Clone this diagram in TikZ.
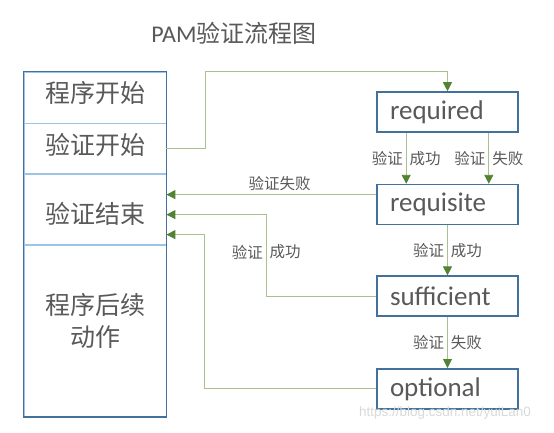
\documentclass[tikz,border=0pt]{standalone}
\usepackage{fontspec}
\setmainfont{Carlito}
\newfontfamily\cjk{Noto Sans CJK SC}
\newfontfamily\urlfont{Liberation Sans}
\usetikzlibrary{positioning, calc, arrows.meta}

\definecolor{boxblue}{HTML}{41719C}
\definecolor{sepblue}{HTML}{9DC3E6}
\definecolor{linegreen}{HTML}{A9C18F}
\definecolor{headgreen}{HTML}{548235}
\definecolor{txtgray}{HTML}{595959}

\tikzset{
  cell/.style={draw=sepblue, line width=0.8pt, minimum width=142pt, inner sep=0pt},
  celltext/.style={text=txtgray, font=\fontsize{25}{32}\selectfont\cjk, align=center, inner sep=0pt},
  ctrl/.style={draw=boxblue, line width=1.6pt, fill=white, minimum width=141pt,
    minimum height=40pt, text width=115pt, inner xsep=13pt, inner ysep=0pt,
    align=left, text=txtgray, font=\fontsize{27}{30}\selectfont},
  flow/.style={draw=linegreen, line width=0.9pt,
    -{Triangle[length=9pt,width=9pt,color=headgreen]}},
  lbl/.style={text=txtgray, font=\fontsize{15.5}{18}\selectfont\cjk, inner sep=3pt}
}

\begin{document}
\begin{tikzpicture}[x=1pt, y=-1pt]
  \useasboundingbox[fill=white] (0,0) rectangle (554,432);

  \node[text=txtgray, font=\fontsize{24}{28}\selectfont] (title) at (234,33) {PAM{\cjk 验证流程图}};

  % program column
  \node[cell, minimum height=51pt] (start) at (95,97.5) {};
  \node[cell, minimum height=50pt, below=0pt of start] (vstart) {};
  \node[cell, minimum height=70pt, below=0pt of vstart] (vend) {};
  \node[cell, minimum height=171pt, below=0pt of vend] (after) {};
  \draw[boxblue, line width=1.6pt] (start.north west) rectangle (after.south east);
  \node[celltext] (tstart) at (95,93) {程序开始};
  \node[celltext] (tvstart) at (95,145) {验证开始};
  \node[celltext] (tvend) at (95,214) {验证结束};
  \node[celltext] (tafter) at (95,321) {程序后续\\动作};

  % control flags
  \node[ctrl] (required) at (447.5,112) {required};
  \node[ctrl, below=51pt of required] (requisite) {requisite};
  \node[ctrl, below=50pt of requisite] (sufficient) {sufficient};
  \node[ctrl, below=51pt of sufficient] (optional) {optional};

  \draw[flow] (vstart.east) -- ++(39,0) |- ([yshift=20pt]required.north) -- (required.north);

  \draw[flow] ([xshift=30pt]required.south west) -- ([xshift=30pt]requisite.north west)
    node[lbl, midway, left] {验证} node[lbl, midway, right] {成功};
  \draw[flow] ([xshift=-30pt]required.south east) -- ([xshift=-30pt]requisite.north east)
    node[lbl, midway, left] {验证} node[lbl, midway, right] {失败};

  \draw[flow] ([yshift=10pt]requisite.west) -- ([yshift=10pt]requisite.west -| vend.east)
    node[lbl, above, pos=0.46] {验证失败};

  \draw[flow] (requisite.south) -- (sufficient.north)
    node[lbl, midway, left] {验证} node[lbl, midway, right] {成功};
  \draw[flow] (sufficient.west) -- ++(-110,0) |- node[lbl, pos=0.27, left] {验证}
    node[lbl, pos=0.27, right] {成功} ([yshift=-5pt]vend.east);

  \draw[flow] (sufficient.south) -- (optional.north)
    node[lbl, midway, left] {验证} node[lbl, midway, right] {失败};
  \draw[flow] (optional.west) -- ++(-172,0) |- ([yshift=-25pt]vend.east);

  \node[text=gray!30, font=\urlfont\fontsize{13.5}{16}\selectfont] (mark) at (445,413) {https://blog.csdn.net/yuiLan0};
\end{tikzpicture}
\end{document}
